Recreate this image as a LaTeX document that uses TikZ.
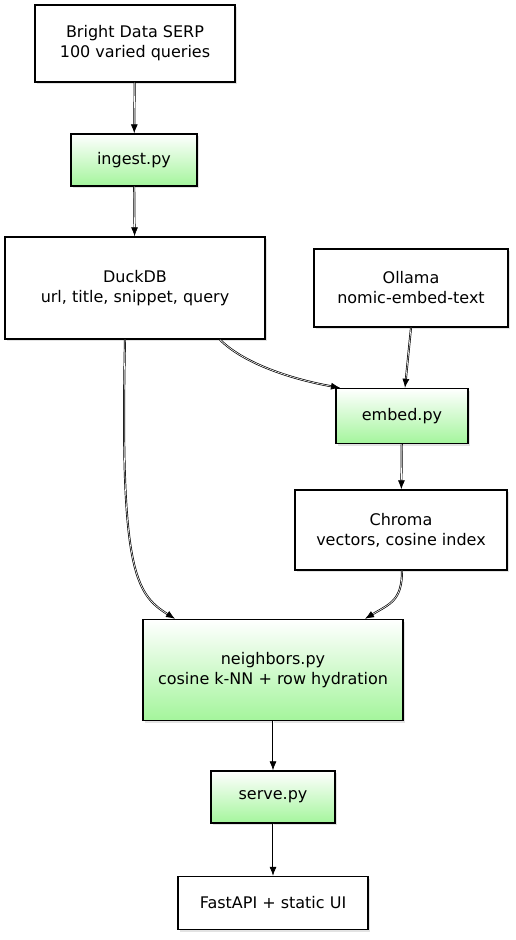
\documentclass[tikz,border=0pt]{standalone}
\usepackage{fontspec}
\setmainfont{DejaVu Sans}
\usepackage{tikz}
\usetikzlibrary{arrows.meta, shadows, positioning, calc}
\definecolor{stepgreen}{RGB}{164,245,156}
\definecolor{stepshadow}{RGB}{200,200,200}

\tikzset{
    box/.style={draw, line width=1.4pt, fill=white, align=center, inner sep=0pt,
        font=\fontsize{16}{20}\selectfont,
        drop shadow={shadow xshift=2pt, shadow yshift=-2pt, fill=stepshadow, opacity=.5}},
    script/.style={box, top color=white, bottom color=stepgreen},
    flow/.style={-{Latex[length=9pt, width=7pt]}, line width=.7pt, double distance=.6pt, draw=black, double=white},
}

\begin{document}
\begin{tikzpicture}[x=1pt, y={(0,-1pt)}]
    \useasboundingbox (0,0) rectangle (516,940);
    % sources
    \node[box, minimum width=200pt, minimum height=77pt] (serp) at (135,43.5) {Bright Data SERP\\100 varied queries};
    \node[script, minimum width=126pt, minimum height=52pt] (ingest) at (134,160) {ingest.py};
    \node[box, minimum width=260pt, minimum height=102pt] (duck) at (135,288) {DuckDB\\url, title, snippet, query};
    \node[box, minimum width=194pt, minimum height=78pt] (ollama) at (411,288) {Ollama\\nomic-embed-text};
    \node[script, minimum width=132pt, minimum height=55pt] (embed) at (402,416) {embed.py};
    \node[box, minimum width=212pt, minimum height=80pt] (chroma) at (401,530) {Chroma\\vectors, cosine index};
    % query path
    \node[script, minimum width=260pt, minimum height=101pt] (nbr) at (273,670) {neighbors.py\\cosine k-NN + row hydration};
    \node[script, minimum width=124pt, minimum height=52pt] (serve) at (273,797) {serve.py};
    \node[box, minimum width=190pt, minimum height=53pt] (api) at (273,903) {FastAPI + static UI};

    \draw[flow] (serp) -- (ingest);
    \draw[flow] (ingest) -- (duck);
    \draw[flow] ([xshift=85pt]duck.south) .. controls +(25,25) and +(-45,-8) .. ([xshift=-62pt]embed.north);
    \draw[flow] (ollama.south) -- ([xshift=3pt]embed.north);
    \draw[flow] (embed) -- (chroma);
    \draw[flow] ([xshift=-10pt]duck.south) .. controls +(-5,230) and +(-40,-25) .. ([xshift=-98pt]nbr.north);
    \draw[flow] ([xshift=1pt]chroma.south) .. controls +(0,30) and +(25,-15) .. ([xshift=92pt]nbr.north);
    \draw[flow] (nbr) -- (serve);
    \draw[flow] (serve) -- (api);
\end{tikzpicture}
\end{document}
